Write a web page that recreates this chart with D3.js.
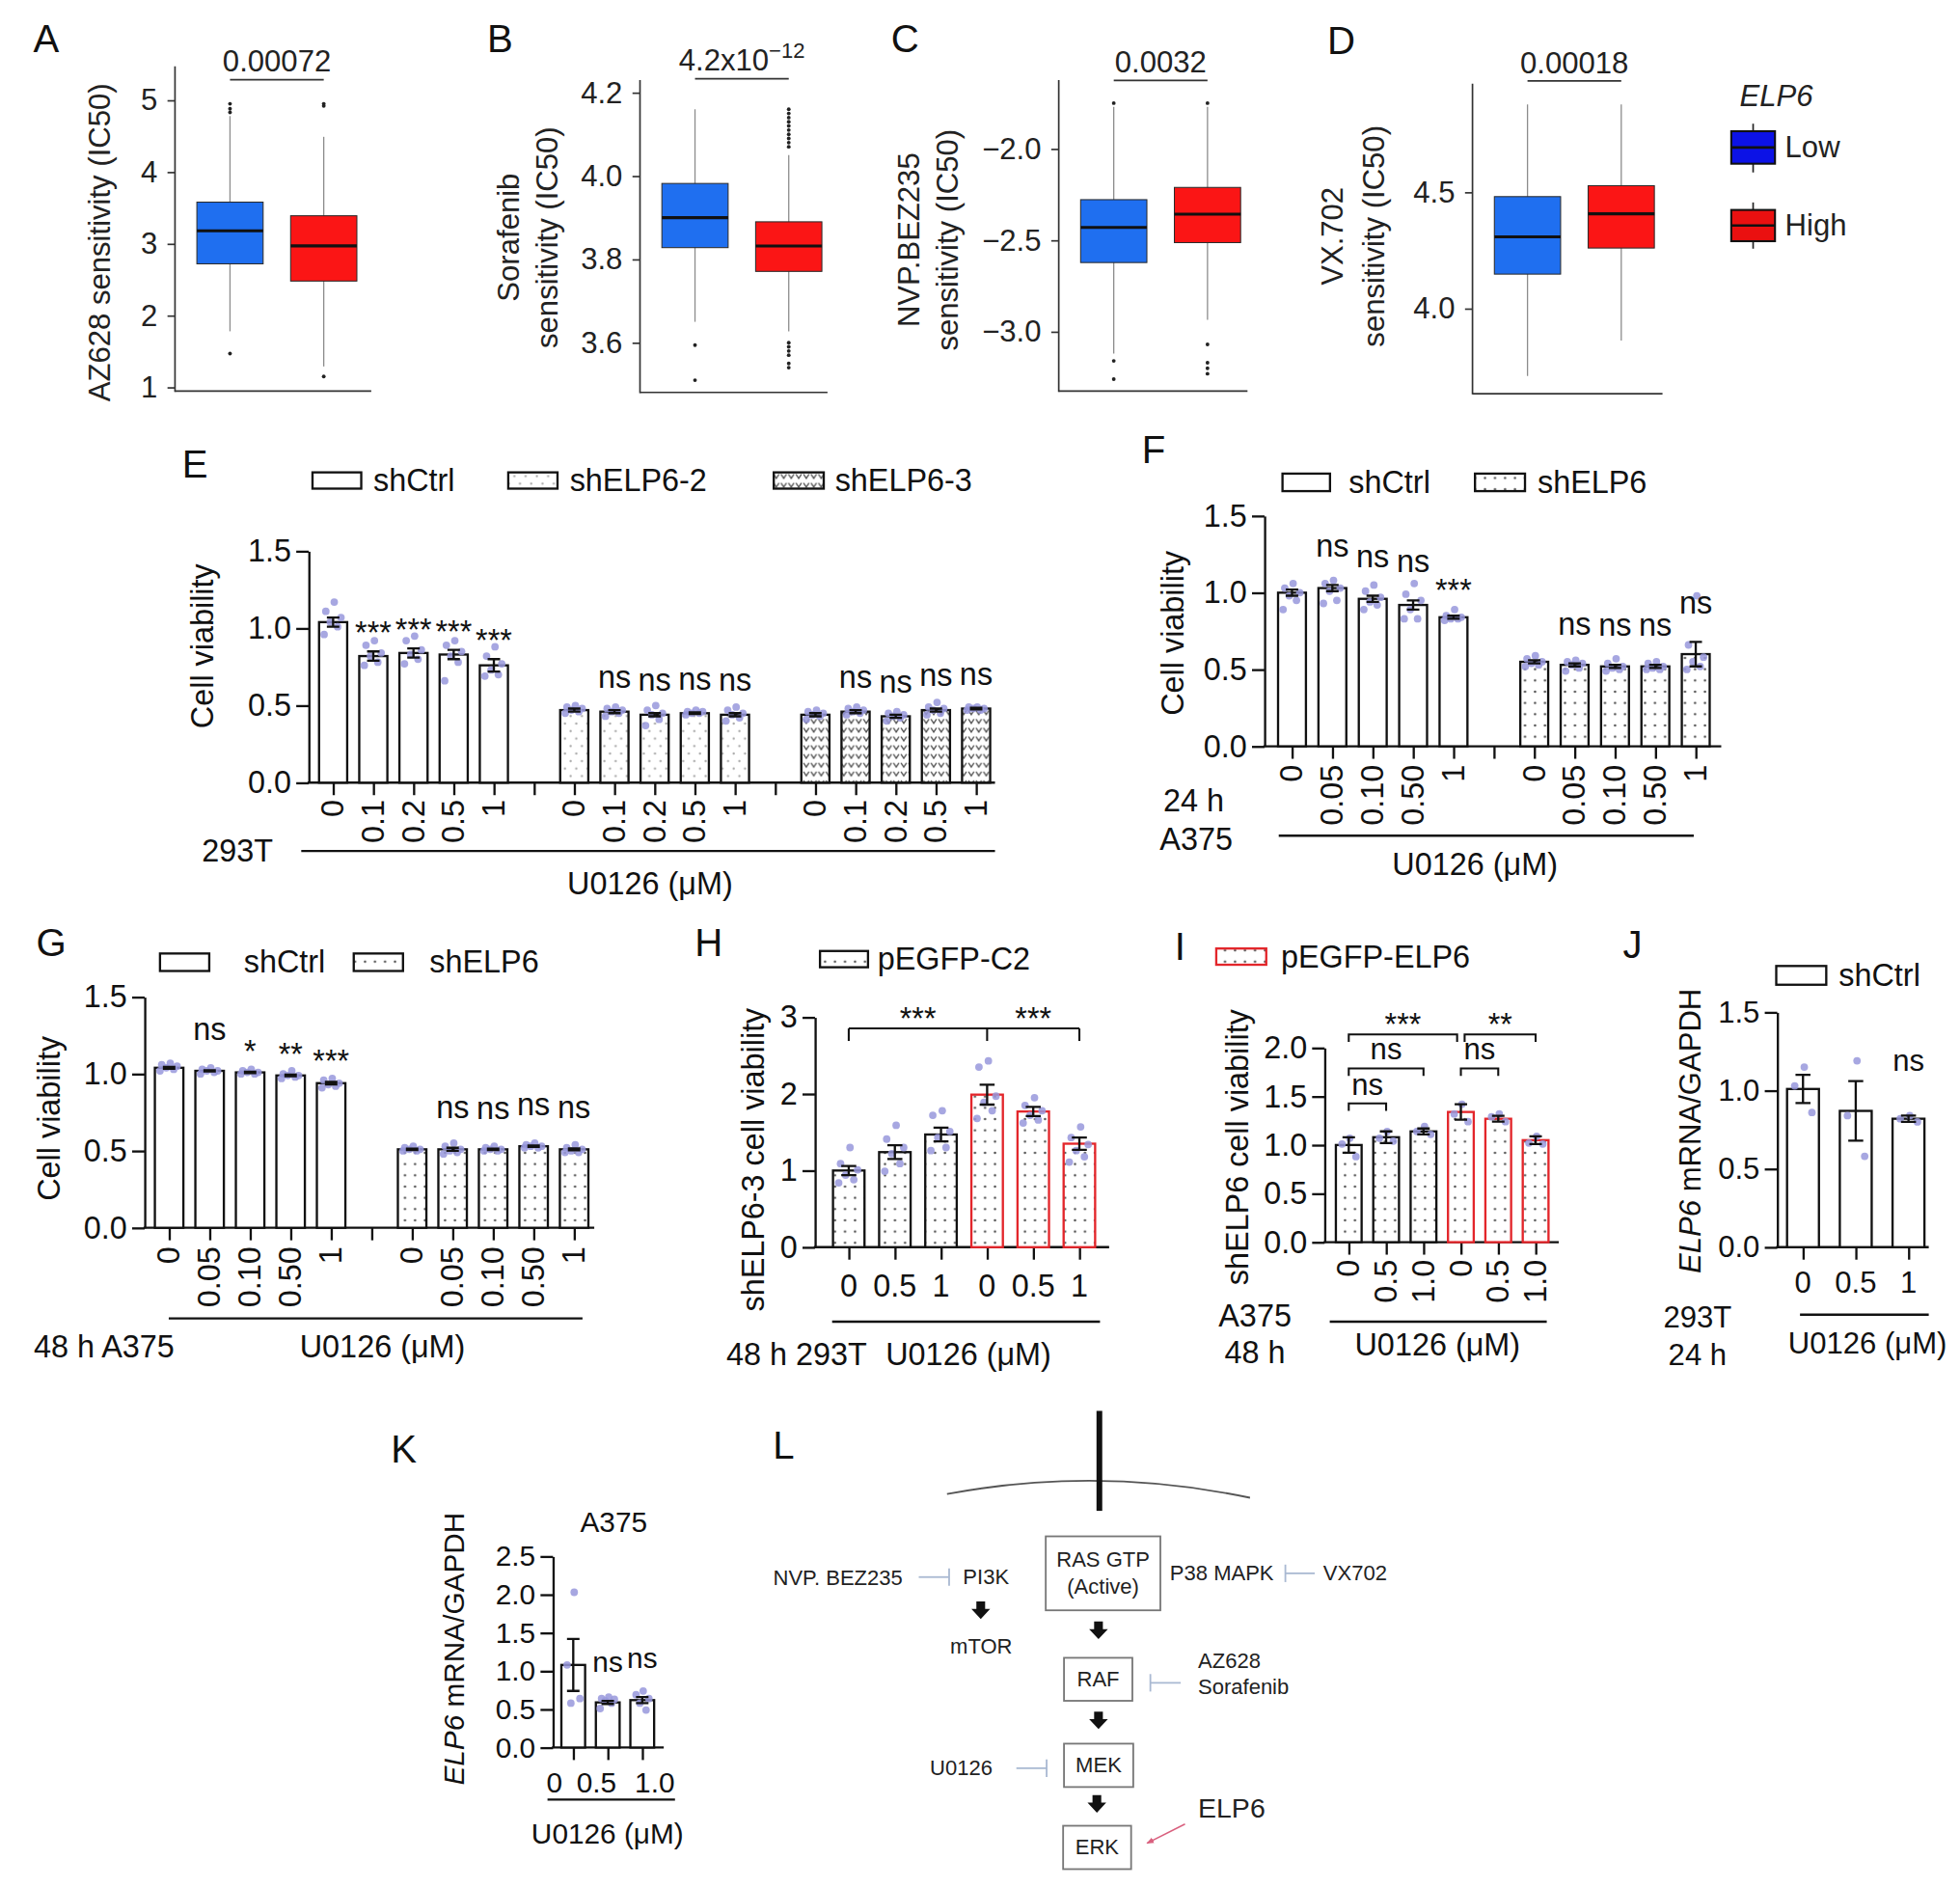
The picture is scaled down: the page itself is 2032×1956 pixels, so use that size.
<!DOCTYPE html>
<html>
<head>
<meta charset="utf-8">
<script src="https://cdn.jsdelivr.net/npm/d3@7"></script>
<style>
html, body { margin: 0; padding: 0; background: #fff; }
svg { display: block; }
</style>
</head>
<body>
<div id="fig"></div>
<script>
// ---------- data ----------
// A-D: ELP6 low / high box plots, [whiskerLow, q1, median, q3, whiskerHigh]
const boxGroups = ['Low', 'High']
const az628Stats = [[1.78, 2.72, 3.18, 3.58, 4.78], [1.29, 2.48, 2.97, 3.39, 4.49]]
const az628Outliers = [[1.47, 4.83, 4.88, 4.95], [1.15, 4.92, 4.95]]
const sorafenibStats = [[3.65, 3.828, 3.90, 3.982, 4.16], [3.627, 3.771, 3.832, 3.89, 4.05]]
const sorafenibOutliers = [
	[3.594, 3.51],
	[4.07, 4.08, 4.09, 4.10, 4.11, 4.12, 4.13, 4.14, 4.15, 4.16, 3.60, 3.59, 3.58, 3.57, 3.55, 3.54]
]
const bez235Stats = [[-3.12, -2.622, -2.43, -2.278, -1.77], [-2.935, -2.513, -2.357, -2.211, -1.77]]
const bez235Outliers = [[-1.75, -3.16, -3.26], [-1.75, -3.07, -3.17, -3.20, -3.23]]
const vx702Stats = [[3.71, 4.148, 4.308, 4.481, 4.877], [3.862, 4.26, 4.407, 4.528, 4.877]]
const vx702Outliers = [[], []]
const pValueBase = ['0.00072', '4.2x10', '0.0032', '0.00018']
const pValueExp = ['', '\u221212', '', '']

// E: 293T, three shRNA groups
const eDoses = ['0', '0.1', '0.2', '0.5', '1']
const eCtrlMean = [1.04, 0.82, 0.84, 0.83, 0.76]
const eCtrlSem = [0.03, 0.03, 0.03, 0.03, 0.04]
const eCtrlDots = [
	[1.17, 1.11, 1.07, 1.04, 1.01, 0.96],
	[0.92, 0.89, 0.84, 0.82, 0.78, 0.76],
	[0.95, 0.92, 0.86, 0.83, 0.80, 0.77],
	[0.92, 0.89, 0.85, 0.82, 0.78, 0.66],
	[0.88, 0.82, 0.77, 0.73, 0.70, 0.69]
]
const eCtrlSig = ['', '***', '***', '***', '***']
const eSh2Mean = [0.47, 0.46, 0.44, 0.45, 0.44]
const eSh2Sem = [0.01, 0.01, 0.01, 0.005, 0.01]
const eSh2Dots = [
	[0.50, 0.49, 0.48, 0.47, 0.46, 0.45],
	[0.49, 0.48, 0.47, 0.46, 0.45, 0.43],
	[0.50, 0.47, 0.45, 0.44, 0.41, 0.37],
	[0.47, 0.46, 0.46, 0.45, 0.45, 0.44],
	[0.49, 0.47, 0.45, 0.44, 0.42, 0.40]
]
const eSh2Sig = ['', 'ns', 'ns', 'ns', 'ns']
const eSh3Mean = [0.44, 0.46, 0.43, 0.47, 0.48]
const eSh3Sem = [0.01, 0.01, 0.01, 0.01, 0.005]
const eSh3Dots = [
	[0.47, 0.46, 0.45, 0.44, 0.43, 0.41],
	[0.49, 0.48, 0.47, 0.46, 0.45, 0.44],
	[0.46, 0.45, 0.44, 0.43, 0.42, 0.40],
	[0.52, 0.49, 0.48, 0.47, 0.45, 0.44],
	[0.49, 0.49, 0.48, 0.48, 0.47, 0.47]
]
const eSh3Sig = ['', 'ns', 'ns', 'ns', 'ns']

// F: A375 24 h
const fDoses = ['0', '0.05', '0.10', '0.50', '1']
const fCtrlMean = [1.00, 1.03, 0.96, 0.92, 0.84]
const fCtrlSem = [0.02, 0.02, 0.02, 0.03, 0.01]
const fCtrlDots = [
	[1.06, 1.03, 1.00, 0.98, 0.95, 0.89],
	[1.08, 1.06, 1.03, 1.01, 0.95, 0.93],
	[1.05, 1.01, 0.97, 0.94, 0.92, 0.89],
	[1.06, 0.99, 0.95, 0.89, 0.83, 0.83],
	[0.89, 0.85, 0.84, 0.83, 0.83, 0.82]
]
const fCtrlSig = ['', 'ns', 'ns', 'ns', '***']
const fShMean = [0.55, 0.53, 0.52, 0.52, 0.60]
const fShSem = [0.01, 0.01, 0.01, 0.01, 0.08]
const fShDots = [
	[0.59, 0.57, 0.55, 0.54, 0.53, 0.52],
	[0.56, 0.55, 0.54, 0.53, 0.51, 0.49],
	[0.57, 0.54, 0.52, 0.51, 0.50, 0.49],
	[0.55, 0.54, 0.52, 0.51, 0.50, 0.50],
	[0.98, 0.66, 0.58, 0.55, 0.52, 0.50]
]
const fShSig = ['', 'ns', 'ns', 'ns', 'ns']

// G: A375 48 h
const gDoses = ['0', '0.05', '0.10', '0.50', '1']
const gCtrlMean = [1.04, 1.02, 1.01, 0.99, 0.94]
const gCtrlSem = [0.006, 0.004, 0.004, 0.005, 0.008]
const gCtrlDots = [
	[1.07, 1.06, 1.05, 1.04, 1.03, 1.02],
	[1.04, 1.03, 1.02, 1.02, 1.01, 1.00],
	[1.03, 1.02, 1.01, 1.01, 1.00, 1.00],
	[1.02, 1.00, 0.99, 0.99, 0.98, 0.97],
	[0.97, 0.96, 0.94, 0.93, 0.92, 0.91]
]
const gCtrlSig = ['', 'ns', '*', '**', '***']
const gShMean = [0.51, 0.51, 0.51, 0.53, 0.51]
const gShSem = [0.004, 0.01, 0.004, 0.004, 0.006]
const gShDots = [
	[0.53, 0.52, 0.51, 0.51, 0.50, 0.50],
	[0.55, 0.53, 0.51, 0.50, 0.49, 0.48],
	[0.53, 0.52, 0.51, 0.51, 0.50, 0.50],
	[0.55, 0.54, 0.53, 0.53, 0.52, 0.52],
	[0.54, 0.52, 0.51, 0.50, 0.49, 0.49]
]
const gShSig = ['', 'ns', 'ns', 'ns', 'ns']

// H: shELP6-3 293T rescue
const hDoses = ['0', '0.5', '1']
const hC2Mean = [1.00, 1.24, 1.47]
const hC2Sem = [0.06, 0.09, 0.09]
const hC2Dots = [[1.30, 1.09, 1.01, 0.94, 0.88, 0.84], [1.59, 1.41, 1.30, 1.22, 1.09, 0.99], [1.78, 1.72, 1.51, 1.43, 1.30, 1.26]]
const hElpMean = [1.99, 1.77, 1.35]
const hElpSem = [0.13, 0.06, 0.08]
const hElpDots = [[2.43, 2.35, 1.97, 1.89, 1.78, 1.68], [1.95, 1.85, 1.78, 1.72, 1.66, 1.62], [1.57, 1.43, 1.34, 1.26, 1.18, 1.11]]
// [fromBar, toBar, label]
const hBrackets = [[0, 3, '***'], [3, 5, '***']]

// I: shELP6 A375 rescue
const iDoses = ['0', '0.5', '1.0']
const iC2Mean = [1.00, 1.08, 1.14]
const iC2Sem = [0.08, 0.06, 0.03]
const iC2Dots = [[1.07, 1.01, 0.88], [1.14, 1.07, 1.04], [1.19, 1.14, 1.11]]
const iElpMean = [1.34, 1.27, 1.05]
const iElpSem = [0.08, 0.03, 0.04]
const iElpDots = [[1.42, 1.32, 1.24], [1.32, 1.29, 1.24], [1.09, 1.02, 1.01]]
// [fromBar, toBar, label, level]
const iBrackets = [[0, 3, '***', 0], [3, 5, '**', 0], [0, 2, 'ns', 1], [3, 4, 'ns', 1], [0, 1, 'ns', 2]]

// J: ELP6 mRNA 293T
const jDoses = ['0', '0.5', '1']
const jMean = [1.01, 0.87, 0.82]
const jSem = [0.09, 0.19, 0.02]
const jDots = [[1.15, 1.03, 0.86], [1.19, 0.84, 0.58], [0.84, 0.82, 0.80]]
const jSig = ['', '', 'ns']

// K: ELP6 mRNA A375
const kDoses = ['0', '0.5', '1.0']
const kMean = [1.08, 0.59, 0.62]
const kSem = [0.34, 0.02, 0.04]
const kDots = [[2.03, 1.08, 0.64, 0.58], [0.66, 0.64, 0.63, 0.61, 0.58, 0.51], [0.74, 0.69, 0.64, 0.58, 0.49]]
const kSig = ['', 'ns', 'ns']

// ---------- styles ----------
const FONT = "'Liberation Sans', Arial, Helvetica, sans-serif"
const INK = '#111'
const RED = '#e3262b'
const DOT = '#9898dc'
const boxFill = ['#1f6ff0', '#fb1515']
const legendFill = ['#0c12e6', '#ea1010']
const jitter = [0.04, -0.26, 0.28, -0.1, 0.16, -0.32, 0.34]

const svg = d3
	.select('#fig')
	.append('svg')
	.attr('width', 2032)
	.attr('height', 1956)
	.attr('viewBox', '0 0 1568 1510')
	.attr('preserveAspectRatio', 'none')
	.attr('font-family', FONT)

svg.append('rect').attr('width', 1568).attr('height', 1510).attr('fill', '#fff')

// fill patterns for knockdown / overexpression bars
const defs = svg.append('defs')
const pDots = defs.append('pattern').attr('id', 'dots').attr('patternUnits', 'userSpaceOnUse').attr('width', 8).attr('height', 9)
pDots.append('rect').attr('width', 8).attr('height', 9).attr('fill', '#fff')
pDots.append('circle').attr('cx', 4).attr('cy', 4.5).attr('r', 1).attr('fill', '#555')

const pSparse = defs.append('pattern').attr('id', 'sparse').attr('patternUnits', 'userSpaceOnUse').attr('width', 9).attr('height', 12)
pSparse.append('rect').attr('width', 9).attr('height', 12).attr('fill', '#fff')
pSparse.append('circle').attr('cx', 2).attr('cy', 3).attr('r', 0.9).attr('fill', '#aaa')
pSparse.append('circle').attr('cx', 6.5).attr('cy', 9).attr('r', 0.9).attr('fill', '#aaa')

const pChev = defs.append('pattern').attr('id', 'chev').attr('patternUnits', 'userSpaceOnUse').attr('width', 6).attr('height', 7)
pChev.append('rect').attr('width', 6).attr('height', 7).attr('fill', '#fff')
pChev.append('path').attr('d', 'M0.8,1.5 L3,4.8 L5.2,1.5').attr('fill', 'none').attr('stroke', '#555').attr('stroke-width', 1.1)

function label(g, txt, x, y, size, opts = {}) {
	const t = g
		.append('text')
		.attr('x', x)
		.attr('y', y)
		.attr('font-size', size)
		.attr('fill', opts.fill || INK)
		.attr('text-anchor', opts.anchor || 'middle')
		.attr('dominant-baseline', opts.baseline || 'central')
		.text(txt)
	if (opts.rotate) t.attr('transform', `rotate(-90,${x},${y})`)
	if (opts.italic) t.attr('font-style', 'italic')
	return t
}

// ---------- A-D box plots ----------
function boxPanel(p) {
	const g = svg.append('g')
	const y = d3.scaleLinear().domain(p.domain).range(p.range)
	const x = d3.scalePoint().domain(boxGroups).range([p.axisX + 44, p.axisX + 119])
	const bw = 53

	const ax = g
		.append('g')
		.attr('transform', `translate(${p.axisX},0)`)
		.call(d3.axisLeft(y).tickValues(p.ticks).tickFormat(p.fmt).tickSize(6).tickPadding(8))
	ax.attr('font-family', FONT).attr('font-size', 24)
	ax.select('.domain').remove()
	ax.selectAll('.tick line').attr('stroke', '#333').attr('stroke-width', 1.3)
	ax.selectAll('.tick text').attr('fill', '#222')

	g.append('line').attr('x1', p.axisX).attr('x2', p.axisX).attr('y1', p.top).attr('y2', p.bottom + 0.6).attr('stroke', '#333').attr('stroke-width', 1.3)
	g.append('line').attr('x1', p.axisX).attr('x2', p.xEnd).attr('y1', p.bottom).attr('y2', p.bottom).attr('stroke', '#333').attr('stroke-width', 1.3)

	boxGroups.forEach((grp, i) => {
		const s = p.stats[i]
		const cx = x(grp)
		g.append('line').attr('x1', cx).attr('x2', cx).attr('y1', y(s[0])).attr('y2', y(s[4])).attr('stroke', '#8c8c8c').attr('stroke-width', 1)
		g.append('rect')
			.attr('x', cx - bw / 2)
			.attr('y', y(s[3]))
			.attr('width', bw)
			.attr('height', y(s[1]) - y(s[3]))
			.attr('fill', boxFill[i])
			.attr('stroke', '#2b2b2b')
			.attr('stroke-width', 0.8)
		g.append('line').attr('x1', cx - bw / 2).attr('x2', cx + bw / 2).attr('y1', y(s[2])).attr('y2', y(s[2])).attr('stroke', '#111').attr('stroke-width', 2.4)
		g.selectAll(null)
			.data(p.outliers[i])
			.join('circle')
			.attr('cx', cx)
			.attr('cy', d => y(d))
			.attr('r', 1.5)
			.attr('fill', '#222')
	})

	// p-value bracket
	g.append('line').attr('x1', x('Low')).attr('x2', x('High')).attr('y1', p.sigY).attr('y2', p.sigY).attr('stroke', '#333').attr('stroke-width', 1.4)
	const pt = g
		.append('text')
		.attr('x', (x('Low') + x('High')) / 2)
		.attr('y', p.sigY - 6.5)
		.attr('font-size', 24)
		.attr('fill', '#222')
		.attr('text-anchor', 'middle')
		.text(pValueBase[p.idx])
	if (pValueExp[p.idx]) pt.append('tspan').attr('dy', -10).attr('font-size', 17).text(pValueExp[p.idx])

	p.titles.forEach(([t, tx]) => label(g, t, tx, p.titleY, 24, {rotate: true, fill: '#222'}))
}

boxPanel({idx: 0, axisX: 140, top: 53, bottom: 313, xEnd: 297, domain: [1, 5], range: [309.9, 80.2], ticks: [1, 2, 3, 4, 5], fmt: d3.format('d'),
	stats: az628Stats, outliers: az628Outliers, sigY: 63.8, titles: [['AZ628 sensitivity (IC50)', 80]], titleY: 194})
boxPanel({idx: 1, axisX: 512, top: 64, bottom: 314, xEnd: 662, domain: [3.6, 4.2], range: [274.2, 74.1], ticks: [3.6, 3.8, 4.0, 4.2], fmt: d3.format('.1f'),
	stats: sorafenibStats, outliers: sorafenibOutliers, sigY: 63, titles: [['Sorafenib', 407], ['sensitivity (IC50)', 438]], titleY: 190})
boxPanel({idx: 2, axisX: 847, top: 64, bottom: 313, xEnd: 998, domain: [-3, -2], range: [265.4, 119.1], ticks: [-3, -2.5, -2], fmt: d3.format('.1f'),
	stats: bez235Stats, outliers: bez235Outliers, sigY: 64.3, titles: [['NVP.BEZ235', 727], ['sensitivity (IC50)', 758]], titleY: 192})
boxPanel({idx: 3, axisX: 1178, top: 67, bottom: 315, xEnd: 1330, domain: [4, 4.5], range: [246.9, 153.8], ticks: [4, 4.5], fmt: d3.format('.1f'),
	stats: vx702Stats, outliers: vx702Outliers, sigY: 64.8, titles: [['VX.702', 1066], ['sensitivity (IC50)', 1099]], titleY: 189})

// ELP6 legend
{
	const g = svg.append('g')
	label(g, 'ELP6', 1421, 77, 24, {italic: true, fill: '#222'})
	const rows = [[105, 131, 99, 138], [168, 193, 162, 199]]
	boxGroups.forEach((grp, i) => {
		const [y1, y2, w1, w2] = rows[i]
		g.append('line').attr('x1', 1402.5).attr('x2', 1402.5).attr('y1', w1).attr('y2', w2).attr('stroke', '#222').attr('stroke-width', 1.3)
		g.append('rect').attr('x', 1385).attr('y', y1).attr('width', 35).attr('height', y2 - y1).attr('fill', legendFill[i]).attr('stroke', '#111').attr('stroke-width', 1.6)
		g.append('line').attr('x1', 1385).attr('x2', 1420).attr('y1', (y1 + y2) / 2).attr('y2', (y1 + y2) / 2).attr('stroke', '#111').attr('stroke-width', 2)
		label(g, grp, 1428, (y1 + y2) / 2, 24, {anchor: 'start', fill: '#222'})
	})
}

// ---------- E-K bar charts ----------
function series(start, mean, sem, dots, sig, fill, stroke) {
	return mean.map((m, k) => ({slot: start + k, mean: m, sem: sem[k], dots: dots[k], sig: sig ? sig[k] : '', fill, stroke}))
}

function barPanel(p) {
	const g = svg.append('g')
	const fs = p.fontSize || 25
	const y = d3.scaleLinear().domain([0, p.yMax]).range([p.y0, p.yTop])
	const x = d3.scaleLinear().domain([0, p.nSlots - 1]).range([p.slot0, p.slot0 + (p.nSlots - 1) * p.step])

	const yAx = g
		.append('g')
		.attr('transform', `translate(${p.axisX},0)`)
		.call(d3.axisLeft(y).tickValues(p.yTicks).tickFormat(p.yFmt).tickSize(10).tickSizeOuter(0).tickPadding(4))
	yAx.attr('font-family', FONT).attr('font-size', fs)
	yAx.select('.domain').attr('stroke', INK).attr('stroke-width', 1.8)
	yAx.selectAll('.tick line').attr('stroke', INK).attr('stroke-width', 1.8)
	yAx.selectAll('.tick text').attr('fill', INK)

	g.append('line').attr('x1', p.axisX - 0.9).attr('x2', p.xEnd).attr('y1', p.y0).attr('y2', p.y0).attr('stroke', INK).attr('stroke-width', 1.8)
	const xAx = g
		.append('g')
		.attr('transform', `translate(0,${p.y0})`)
		.call(d3.axisBottom(x).tickValues(d3.range(p.nSlots)).tickSize(10).tickFormat(''))
	xAx.select('.domain').remove()
	xAx.selectAll('.tick line').attr('stroke', INK).attr('stroke-width', 1.8)

	// tick labels may be nudged sideways where they are wider than a bar step
	const shift = i => (p.xLabelShift ? p.xLabelShift[i] : 0)
	const xl = g.selectAll('.xlab').data(p.xLabels).join('text').attr('class', 'xlab').attr('font-size', fs).attr('fill', INK).text(d => d)
	if (p.rotate) {
		xl.attr('transform', (d, i) => `translate(${x(i)},${p.y0 + p.xLabelOffset}) rotate(-90)`).attr('text-anchor', 'end').attr('dominant-baseline', 'central')
	} else {
		xl.attr('x', (d, i) => x(i) + shift(i)).attr('y', p.y0 + p.xLabelOffset).attr('text-anchor', 'middle').attr('dominant-baseline', 'central')
	}

	const items = p.series.flat()
	g.selectAll('.bar')
		.data(items)
		.join('rect')
		.attr('class', 'bar')
		.attr('x', d => x(d.slot) - p.barW / 2)
		.attr('y', d => y(d.mean))
		.attr('width', p.barW)
		.attr('height', d => p.y0 - y(d.mean))
		.attr('fill', d => d.fill)
		.attr('stroke', d => d.stroke)
		.attr('stroke-width', 1.8)

	items.forEach(d => {
		g.selectAll(null)
			.data(d.dots)
			.join('circle')
			.attr('cx', (v, j) => x(d.slot) + jitter[j % jitter.length] * p.barW)
			.attr('cy', v => y(v))
			.attr('r', 3)
			.attr('fill', DOT)
			.attr('fill-opacity', 0.85)
	})

	const cap = p.capW || 10
	items.forEach(d => {
		const cx = x(d.slot)
		const hi = y(d.mean + d.sem)
		const lo = y(d.mean - d.sem)
		g.append('path')
			.attr('d', `M${cx},${lo}V${hi}M${cx - cap / 2},${hi}H${cx + cap / 2}M${cx - cap / 2},${lo}H${cx + cap / 2}`)
			.attr('stroke', INK)
			.attr('stroke-width', 1.8)
			.attr('fill', 'none')
		if (d.sig) {
			const gap = d.sig === 'ns' ? p.nsGap : p.starGap
			label(g, d.sig, cx, y(d.mean + d.sem) - gap, fs, {baseline: 'alphabetic'})
		}
	})

	if (p.title) {
		const t = label(g, '', p.title.x, p.title.y, fs, {rotate: true})
		if (p.title.italic) t.append('tspan').attr('font-style', 'italic').text(p.title.italic)
		t.append('tspan').text(p.title.text)
	}
	return {g, x, y}
}

function doseLabels(groups, gap) {
	const out = []
	groups.forEach((d, i) => {
		if (i > 0 && gap) out.push('')
		out.push(...d)
	})
	return out
}

function legendItems(items) {
	const g = svg.append('g')
	items.forEach(it => {
		g.append('rect')
			.attr('x', it.x)
			.attr('y', it.y)
			.attr('width', it.w)
			.attr('height', it.h)
			.attr('fill', it.fill)
			.attr('stroke', it.stroke || INK)
			.attr('stroke-width', 1.8)
		label(g, it.text, it.tx, it.y + it.h / 2, 25, {anchor: 'start'})
	})
}

const fmt1 = d3.format('.1f')

// E
barPanel({
	axisX: 247, y0: 626.3, yTop: 441, yMax: 1.5, yTicks: [0, 0.5, 1, 1.5], yFmt: fmt1,
	nSlots: 17, slot0: 266.5, step: 32.15, xEnd: 796, barW: 22.5, rotate: true, xLabelOffset: 13.7,
	xLabels: doseLabels([eDoses, eDoses, eDoses], true), nsGap: 18, starGap: 6,
	series: [
		series(0, eCtrlMean, eCtrlSem, eCtrlDots, eCtrlSig, '#fff', INK),
		series(6, eSh2Mean, eSh2Sem, eSh2Dots, eSh2Sig, 'url(#sparse)', INK),
		series(12, eSh3Mean, eSh3Sem, eSh3Dots, eSh3Sig, 'url(#chev)', INK)
	],
	title: {text: 'Cell viability', x: 162.3, y: 517}
})
legendItems([
	{x: 250, y: 378, w: 39, h: 13, fill: '#fff', text: 'shCtrl', tx: 298.6},
	{x: 406.6, y: 378, w: 39.4, h: 13, fill: 'url(#sparse)', text: 'shELP6-2', tx: 455.8},
	{x: 619, y: 378, w: 40, h: 13, fill: 'url(#chev)', text: 'shELP6-3', tx: 668}
])
{
	const g = svg.append('g')
	g.append('line').attr('x1', 241).attr('x2', 796).attr('y1', 681).attr('y2', 681).attr('stroke', INK).attr('stroke-width', 1.8)
	label(g, '293T', 190, 681, 25)
	label(g, 'U0126 (\u03bcM)', 520, 707, 25)
}

// F
barPanel({
	axisX: 1011.6, y0: 597.2, yTop: 412.8, yMax: 1.5, yTicks: [0, 0.5, 1, 1.5], yFmt: fmt1,
	nSlots: 11, slot0: 1033.6, step: 32.3, xEnd: 1377, barW: 22.3, rotate: true, xLabelOffset: 14.8,
	xLabels: doseLabels([fDoses, fDoses], true), nsGap: 23, starGap: 12,
	series: [
		series(0, fCtrlMean, fCtrlSem, fCtrlDots, fCtrlSig, '#fff', INK),
		series(6, fShMean, fShSem, fShDots, fShSig, 'url(#dots)', INK)
	],
	title: {text: 'Cell viability', x: 938, y: 506.7}
})
legendItems([
	{x: 1026, y: 379, w: 38, h: 14, fill: '#fff', text: 'shCtrl', tx: 1079},
	{x: 1180, y: 379, w: 40, h: 14, fill: 'url(#dots)', text: 'shELP6', tx: 1230}
])
{
	const g = svg.append('g')
	g.append('line').attr('x1', 1023).attr('x2', 1355).attr('y1', 668.7).attr('y2', 668.7).attr('stroke', INK).attr('stroke-width', 1.8)
	label(g, '24 h', 955, 640.5, 25)
	label(g, 'A375', 957, 672, 25)
	label(g, 'U0126 (\u03bcM)', 1180, 692, 25)
}

// G
barPanel({
	axisX: 115.7, y0: 982.5, yTop: 797.8, yMax: 1.5, yTicks: [0, 0.5, 1, 1.5], yFmt: fmt1,
	nSlots: 11, slot0: 135.3, step: 32.4, xEnd: 475.4, barW: 22.8, rotate: true, xLabelOffset: 15,
	xLabels: doseLabels([gDoses, gDoses], true), nsGap: 24, starGap: 8,
	series: [
		series(0, gCtrlMean, gCtrlSem, gCtrlDots, gCtrlSig, '#fff', INK),
		series(6, gShMean, gShSem, gShDots, gShSig, 'url(#dots)', INK)
	],
	title: {text: 'Cell viability', x: 39, y: 895}
})
legendItems([
	{x: 128, y: 763, w: 39.4, h: 14, fill: '#fff', text: 'shCtrl', tx: 195},
	{x: 283, y: 763, w: 39.4, h: 14, fill: 'url(#dots)', text: 'shELP6', tx: 343.6}
])
{
	const g = svg.append('g')
	g.append('line').attr('x1', 135).attr('x2', 466).attr('y1', 1055).attr('y2', 1055).attr('stroke', INK).attr('stroke-width', 1.8)
	label(g, '48 h A375', 27, 1077.7, 25, {anchor: 'start'})
	label(g, 'U0126 (\u03bcM)', 306, 1077.7, 25)
}

// H
{
	const h = barPanel({
		axisX: 652, y0: 998, yTop: 814, yMax: 3, yTicks: [0, 1, 2, 3], yFmt: d3.format('d'),
		nSlots: 6, slot0: 679, step: 36.9, xEnd: 887.3, barW: 25.2, rotate: false, xLabelOffset: 30.7,
		xLabels: doseLabels([hDoses, hDoses], false), capW: 12,
		series: [
			series(0, hC2Mean, hC2Sem, hC2Dots, null, 'url(#dots)', INK),
			series(3, hElpMean, hElpSem, hElpDots, null, 'url(#dots)', RED)
		],
		title: {text: 'shELP6-3 cell viability', x: 603, y: 928}
	})
	const by = 823
	const ends = [...new Set(hBrackets.flat().filter(v => typeof v === 'number'))]
	h.g.append('line').attr('x1', h.x(d3.min(ends))).attr('x2', h.x(d3.max(ends))).attr('y1', by).attr('y2', by).attr('stroke', INK).attr('stroke-width', 1.6)
	ends.forEach(e => h.g.append('line').attr('x1', h.x(e)).attr('x2', h.x(e)).attr('y1', by).attr('y2', by + 10).attr('stroke', INK).attr('stroke-width', 1.6))
	hBrackets.forEach(([a, b, t]) => label(h.g, t, (h.x(a) + h.x(b)) / 2, by + 1, 25, {baseline: 'alphabetic'}))
	legendItems([{x: 656, y: 761, w: 38.4, h: 13, fill: 'url(#dots)', text: 'pEGFP-C2', tx: 702}])
	h.g.append('line').attr('x1', 665.7).attr('x2', 880).attr('y1', 1057.6).attr('y2', 1057.6).attr('stroke', INK).attr('stroke-width', 1.8)
	label(h.g, '48 h 293T', 581, 1084, 25, {anchor: 'start'})
	label(h.g, 'U0126 (\u03bcM)', 841, 1084, 25, {anchor: 'end'})
}

// I
{
	const ip = barPanel({
		axisX: 1059.7, y0: 994, yTop: 838.5, yMax: 2, yTicks: [0, 0.5, 1, 1.5, 2], yFmt: fmt1,
		nSlots: 6, slot0: 1079, step: 29.9, xEnd: 1247, barW: 20.6, rotate: true, xLabelOffset: 14, capW: 10,
		xLabels: doseLabels([iDoses, iDoses], false),
		series: [
			series(0, iC2Mean, iC2Sem, iC2Dots, null, 'url(#dots)', INK),
			series(3, iElpMean, iElpSem, iElpDots, null, 'url(#dots)', RED)
		],
		title: {text: 'shELP6 cell viability', x: 989.7, y: 918}
	})
	const levelY = [827.7, 855, 883]
	iBrackets.forEach(([a, b, t, lv]) => {
		const by = levelY[lv]
		const x1 = ip.x(a) + (a === 3 && lv === 0 ? 3 : 0)
		const x2 = ip.x(b) - (b === 3 && lv === 0 ? 3 : 0)
		ip.g.append('path')
			.attr('d', `M${x1},${by + 6}V${by}H${x2}V${by + 6}`)
			.attr('fill', 'none')
			.attr('stroke', INK)
			.attr('stroke-width', 1.6)
		label(ip.g, t, (x1 + x2) / 2, t === 'ns' ? by - 7 : by + 1, t === 'ns' ? 24 : 25, {baseline: 'alphabetic'})
	})
	legendItems([{x: 973, y: 759, w: 40, h: 13, fill: 'url(#dots)', stroke: RED, text: 'pEGFP-ELP6', tx: 1024.7}])
	ip.g.append('line').attr('x1', 1063.8).attr('x2', 1237.4).attr('y1', 1057.6).attr('y2', 1057.6).attr('stroke', INK).attr('stroke-width', 1.8)
	label(ip.g, 'A375', 1004, 1053, 25)
	label(ip.g, '48 h', 1004, 1082.6, 25)
	label(ip.g, 'U0126 (\u03bcM)', 1150, 1076, 25)
}

// J
{
	const jp = barPanel({
		axisX: 1421.8, y0: 998, yTop: 810, yMax: 1.5, yTicks: [0, 0.5, 1, 1.5], yFmt: fmt1, fontSize: 24,
		nSlots: 3, slot0: 1442.4, step: 42.2, xEnd: 1543, barW: 25.5, rotate: false, xLabelOffset: 28, capW: 12,
		xLabels: jDoses, nsGap: 36, starGap: 8,
		series: [series(0, jMean, jSem, jDots, jSig, '#fff', INK)],
		title: {italic: 'ELP6', text: ' mRNA/GAPDH', x: 1352, y: 905}
	})
	legendItems([{x: 1421, y: 773, w: 40, h: 15, fill: '#fff', text: 'shCtrl', tx: 1471}])
	jp.g.append('line').attr('x1', 1440).attr('x2', 1543).attr('y1', 1052).attr('y2', 1052).attr('stroke', INK).attr('stroke-width', 1.8)
	label(jp.g, '293T', 1358, 1054.5, 24)
	label(jp.g, '24 h', 1358, 1084, 24)
	label(jp.g, 'U0126 (\u03bcM)', 1494, 1075, 24)
}

// K
{
	const kp = barPanel({
		axisX: 442.4, y0: 1398.4, yTop: 1245.4, yMax: 2.5, yTicks: [0, 0.5, 1, 1.5, 2, 2.5], yFmt: fmt1, fontSize: 23,
		nSlots: 3, slot0: 458.6, step: 27.6, xEnd: 531, barW: 19, rotate: false, xLabelOffset: 27.6, capW: 10,
		xLabels: kDoses, xLabelShift: [-15, -9, 10], nsGap: 23, starGap: 8,
		series: [series(0, kMean, kSem, kDots, kSig, '#fff', INK)],
		title: {italic: 'ELP6', text: ' mRNA/GAPDH', x: 362.7, y: 1319.4}
	})
	kp.g.append('line').attr('x1', 438).attr('x2', 540).attr('y1', 1440).attr('y2', 1440).attr('stroke', INK).attr('stroke-width', 1.8)
	label(kp.g, 'U0126 (\u03bcM)', 486, 1467, 23)
	label(kp.g, 'A375', 491, 1218, 23)
}

// ---------- L: pathway sketch ----------
{
	const g = svg.append('g')
	const gray = '#777'
	const inhib = '#a9b9d2'
	g.append('path').attr('d', 'M757.6,1195.5 Q879,1173 1000,1198.5').attr('fill', 'none').attr('stroke', '#555').attr('stroke-width', 1.4)
	g.append('line').attr('x1', 879.5).attr('x2', 879.5).attr('y1', 1129).attr('y2', 1209).attr('stroke', INK).attr('stroke-width', 4.6)

	const nodes = [
		{lines: ['RAS GTP', '(Active)'], x: 836.6, y: 1229.4, w: 91.7, h: 59.2},
		{lines: ['RAF'], x: 851.2, y: 1326.6, w: 54.7, h: 34.4},
		{lines: ['MEK'], x: 851.2, y: 1395.3, w: 55.4, h: 34.7},
		{lines: ['ERK'], x: 850.5, y: 1461, w: 54.4, h: 34.7}
	]
	nodes.forEach(n => {
		g.append('rect').attr('x', n.x).attr('y', n.y).attr('width', n.w).attr('height', n.h).attr('fill', '#fff').attr('stroke', gray).attr('stroke-width', 1.4)
		const cy = n.y + n.h / 2
		n.lines.forEach((t, i) => label(g, t, n.x + n.w / 2, cy + (i - (n.lines.length - 1) / 2) * 21.8, 17, {fill: '#222'}))
	})

	const arrow = (cx, top) =>
		g.append('path')
			.attr('d', `M${cx - 3.5},${top}H${cx + 3.5}V${top + 6}H${cx + 7.5}L${cx},${top + 14}L${cx - 7.5},${top + 6}H${cx - 3.5}Z`)
			.attr('fill', INK)
	arrow(878.8, 1297.6)
	arrow(878.8, 1369.6)
	arrow(877.5, 1436.5)
	arrow(784.6, 1281.5)

	const texts = [
		['NVP. BEZ235', 618.5, 1262.3, 'start'],
		['PI3K', 770.4, 1262, 'start'],
		['mTOR', 785, 1317.4, 'middle'],
		['P38 MAPK', 935.9, 1259, 'start'],
		['VX702', 1058.6, 1259, 'start'],
		['AZ628', 958.4, 1329.2, 'start'],
		['Sorafenib', 958.4, 1349.8, 'start'],
		['U0126', 743.9, 1414.6, 'start']
	]
	texts.forEach(([t, x, y, a]) => label(g, t, x, y, 17, {anchor: a, fill: '#222'}))
	label(g, 'ELP6', 958.4, 1446.7, 22, {anchor: 'start', fill: '#222'})

	// inhibition lines: [x1, x2, y, barX]
	const blocks = [[735, 759.3, 1262, 759.3], [1028.3, 1051.8, 1259, 1028.3], [920.3, 944.6, 1346.6, 920.3], [813.1, 837.3, 1415, 837.3]]
	blocks.forEach(([x1, x2, y, bx]) => {
		g.append('line').attr('x1', x1).attr('x2', x2).attr('y1', y).attr('y2', y).attr('stroke', inhib).attr('stroke-width', 1.4)
		g.append('line').attr('x1', bx).attr('x2', bx).attr('y1', y - 7).attr('y2', y + 7).attr('stroke', inhib).attr('stroke-width', 1.4)
	})

	defs.append('marker')
		.attr('id', 'redhead')
		.attr('viewBox', '0 0 10 10')
		.attr('refX', 9)
		.attr('refY', 5)
		.attr('markerWidth', 5)
		.attr('markerHeight', 5)
		.attr('orient', 'auto')
		.append('path')
		.attr('d', 'M0,1L10,5L0,9Z')
		.attr('fill', '#d9607e')
	g.append('line').attr('x1', 948).attr('y1', 1459.6).attr('x2', 917.6).attr('y2', 1475).attr('stroke', '#d9607e').attr('stroke-width', 1.2).attr('marker-end', 'url(#redhead)')
}

// ---------- panel letters ----------
const panelLetters = [
	['A', 37, 31], ['B', 400, 31], ['C', 724, 31], ['D', 1073, 33],
	['E', 156, 372], ['F', 923, 360], ['G', 41, 755], ['H', 567, 755],
	['I', 944, 758], ['J', 1306, 756], ['K', 323, 1160], ['L', 627, 1157]
]
svg.selectAll('.letter')
	.data(panelLetters)
	.join('text')
	.attr('class', 'letter')
	.attr('x', d => d[1])
	.attr('y', d => d[2])
	.attr('font-size', 31)
	.attr('fill', INK)
	.attr('text-anchor', 'middle')
	.attr('dominant-baseline', 'central')
	.text(d => d[0])
</script>
</body>
</html>
